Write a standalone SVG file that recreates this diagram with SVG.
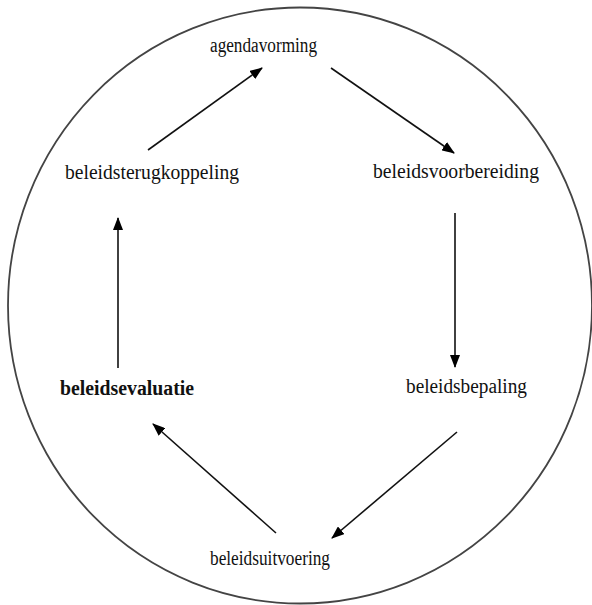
<svg xmlns="http://www.w3.org/2000/svg" width="592" height="605" viewBox="0 0 592 605">
<defs>
<marker id="ah" markerWidth="13" markerHeight="10" refX="12" refY="5" orient="auto" markerUnits="userSpaceOnUse">
<path d="M0,0 L13,5 L0,10 Z" fill="#000"/>
</marker>
<style>
.lbl{font-family:"Liberation Serif","Times New Roman",serif;font-size:20px;fill:#111;text-anchor:start}
.b{font-weight:bold}
.c{stroke:#111;stroke-width:1.6;fill:none;marker-end:url(#ah)}
</style>
</defs>
<rect width="592" height="605" fill="#fff"/>
<ellipse id="cycle" cx="300" cy="305.5" rx="292" ry="298" fill="none" stroke="#444" stroke-width="1.8"/>
<g id="n-agenda"><text class="lbl" x="210" y="52" textLength="107" lengthAdjust="spacingAndGlyphs">agendavorming</text></g>
<g id="n-voorbereiding"><text class="lbl" x="373" y="178" textLength="166" lengthAdjust="spacingAndGlyphs">beleidsvoorbereiding</text></g>
<g id="n-bepaling"><text class="lbl" x="406" y="393" textLength="121" lengthAdjust="spacingAndGlyphs">beleidsbepaling</text></g>
<g id="n-uitvoering"><text class="lbl" x="210" y="565" textLength="120" lengthAdjust="spacingAndGlyphs">beleidsuitvoering</text></g>
<g id="n-evaluatie"><text class="lbl b" x="60" y="395" textLength="134" lengthAdjust="spacingAndGlyphs">beleidsevaluatie</text></g>
<g id="n-terugkoppeling"><text class="lbl" x="65" y="179" textLength="174" lengthAdjust="spacingAndGlyphs">beleidsterugkoppeling</text></g>
<g id="connectors">
<line class="c" x1="148" y1="150" x2="262" y2="68"/>
<line class="c" x1="331" y1="68" x2="454" y2="153"/>
<line class="c" x1="455" y1="213" x2="455" y2="367"/>
<line class="c" x1="457" y1="432" x2="332" y2="538"/>
<line class="c" x1="276" y1="533" x2="153" y2="424"/>
<line class="c" x1="118" y1="368" x2="118" y2="218"/>
</g>
</svg>
